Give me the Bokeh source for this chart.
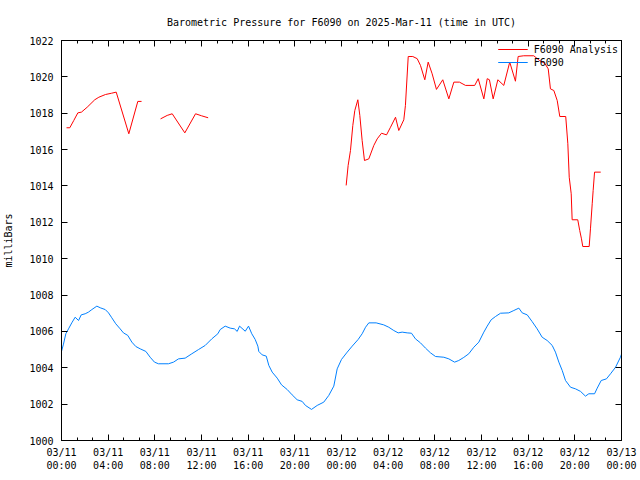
import numpy as np
import pandas as pd
from bokeh.plotting import figure
from bokeh.models import (Range1d, FixedTicker, DatetimeTickFormatter, DatetimeAxis,
                          LinearAxis, Legend, LegendItem, CustomJSTickFormatter)
from bokeh.embed import file_html
from bokeh.resources import INLINE

# ---- data (hours after 2025-03-11 00:00 UTC, pressure in mb) ----
start_time = "2025-03-11 00:00"
tick_hours = [0, 4, 8, 12, 16, 20, 24, 28, 32, 36, 40, 44, 48]
y_ticks = [1000, 1002, 1004, 1006, 1008, 1010, 1012, 1014, 1016, 1018, 1020, 1022]

obs_hours = [
    0.0, 0.17, 0.37, 0.6, 0.88, 1.17, 1.46, 1.69, 2.03, 2.31,
    2.6, 3.03, 3.32, 3.75, 4.03, 4.31, 4.65, 5.03, 5.31, 5.68,
    6.03, 6.37, 6.75, 7.23, 7.6, 7.97, 8.31, 9.17, 9.6, 10.03,
    10.6, 11.17, 11.74, 12.32, 12.88, 13.4, 13.6, 14.03, 14.46, 14.83,
    15.06, 15.26, 15.75, 16.03, 16.31, 16.6, 16.83, 16.91, 17.2, 17.55,
    17.77, 18.06, 18.49, 18.86, 19.35, 19.77, 20.2, 20.63, 20.91, 21.43,
    21.92, 22.48, 22.91, 23.34, 23.63, 24.0, 24.49, 24.92, 25.43, 25.77,
    26.06, 26.34, 26.97, 27.62, 28.05, 28.48, 28.86, 29.2, 29.63, 30.0,
    30.34, 30.77, 31.2, 31.63, 32.06, 32.77, 33.2, 33.69, 34.05, 34.48,
    34.91, 35.34, 35.77, 36.2, 36.49, 36.83, 37.2, 37.63, 38.34, 38.77,
    39.2, 39.49, 39.92, 40.34, 40.77, 41.2, 41.63, 42.06, 42.34, 42.63,
    42.92, 43.2, 43.63, 44.06, 44.49, 44.91, 45.2, 45.69, 45.92, 46.26,
    46.71, 47.06, 47.49, 47.91, 48.0,
]
obs_pressure = [
    1004.9, 1005.3, 1005.87, 1006.14, 1006.47, 1006.78, 1006.6, 1006.91, 1006.97, 1007.06,
    1007.2, 1007.39, 1007.3, 1007.2, 1007.02, 1006.75, 1006.42, 1006.14, 1005.92, 1005.78,
    1005.41, 1005.17, 1005.04, 1004.9, 1004.58, 1004.31, 1004.22, 1004.22, 1004.31, 1004.49,
    1004.53, 1004.77, 1005.0, 1005.23, 1005.59, 1005.87, 1006.1, 1006.29, 1006.18, 1006.14,
    1006.0, 1006.29, 1006.01, 1006.29, 1005.87, 1005.56, 1005.19, 1004.9, 1004.71, 1004.64,
    1004.13, 1003.76, 1003.43, 1003.06, 1002.8, 1002.51, 1002.24, 1002.15, 1001.93, 1001.71,
    1001.93, 1002.11, 1002.48, 1002.99, 1003.94, 1004.46, 1004.86, 1005.19, 1005.56, 1005.87,
    1006.23, 1006.47, 1006.47, 1006.36, 1006.23, 1006.05, 1005.92, 1005.96, 1005.92, 1005.9,
    1005.59, 1005.37, 1005.08, 1004.82, 1004.62, 1004.58, 1004.49, 1004.31, 1004.4, 1004.57,
    1004.77, 1005.13, 1005.41, 1005.96, 1006.29, 1006.64, 1006.82, 1007.0, 1007.02, 1007.15,
    1007.28, 1007.02, 1006.91, 1006.54, 1006.14, 1005.68, 1005.5, 1005.23, 1004.86, 1004.31,
    1003.85, 1003.3, 1002.93, 1002.84, 1002.7, 1002.44, 1002.57, 1002.57, 1002.88, 1003.3,
    1003.39, 1003.67, 1004.03, 1004.58, 1004.75,
]

ana1_hours = [0.43, 0.71, 1.05, 1.4, 1.71, 2.2, 2.85, 3.2, 3.77, 4.29, 4.69, 5.77, 6.54, 6.86]
ana1_pressure = [1017.2, 1017.2, 1017.6, 1018.02, 1018.06, 1018.33, 1018.74, 1018.88, 1019.03,
                 1019.1, 1019.16, 1016.87, 1018.65, 1018.65]
ana2_hours = [8.49, 9.06, 9.49, 10.57, 11.49, 12.0, 12.57]
ana2_pressure = [1017.69, 1017.88, 1017.97, 1016.92, 1017.97, 1017.86, 1017.75]
ana3_hours = [
    24.4, 24.57, 24.77, 24.97, 25.14, 25.4, 25.57, 25.77, 25.97, 26.34,
    26.77, 27.06, 27.43, 27.86, 28.2, 28.63, 28.91, 29.34, 29.48, 29.72,
    30.11, 30.49, 30.77, 31.14, 31.43, 31.77, 32.14, 32.68, 33.2, 33.63,
    34.11, 34.63, 35.42, 35.72, 36.2, 36.49, 36.68, 37.0, 37.4, 37.91,
    38.42, 38.91, 39.14, 39.62, 40.48, 40.97, 41.42, 41.72, 41.91, 42.2,
    42.49, 42.71, 43.22, 43.4, 43.52, 43.69, 43.77, 44.25, 44.42, 44.57,
    44.68, 45.23, 45.34, 45.49, 45.57, 45.69, 46.22,
]
ana3_pressure = [
    1014.03, 1015.13, 1015.95, 1017.33, 1018.15, 1018.74, 1017.88, 1016.5, 1015.4, 1015.49,
    1016.23, 1016.59, 1016.9, 1016.81, 1017.23, 1017.78, 1017.05, 1017.64, 1018.43, 1021.12,
    1021.12, 1021.0, 1020.63, 1019.84, 1020.81, 1020.17, 1019.31, 1019.84, 1018.79, 1019.71,
    1019.71, 1019.53, 1019.53, 1019.9, 1018.79, 1019.9, 1019.84, 1018.79, 1019.84, 1019.53,
    1020.81, 1019.76, 1021.12, 1021.16, 1021.16, 1020.9, 1020.75, 1020.44, 1019.34, 1019.25,
    1018.7, 1017.82, 1017.82, 1016.32, 1014.48, 1013.57, 1012.14, 1012.14, 1011.55, 1011.09,
    1010.67, 1010.67, 1011.64, 1013.02, 1013.75, 1014.76, 1014.76,
]

# ---- helpers ----
t0 = pd.Timestamp(start_time)


def to_time(hours):
    return [t0 + pd.Timedelta(hours=h) for h in hours]


def to_ms(hours):
    return [(t0 + pd.Timedelta(hours=h)).value / 1e6 for h in hours]


# analysis series, broken into segments with NaN gaps
ana_x, ana_y = [], []
for hs, ps in [(ana1_hours, ana1_pressure), (ana2_hours, ana2_pressure), (ana3_hours, ana3_pressure)]:
    if ana_x:
        ana_x.append(to_time([hs[0]])[0])
        ana_y.append(np.nan)
    ana_x += to_time(hs)
    ana_y += ps

FONT = "DejaVu Sans Mono"
FS = "10px"

p = figure(width=640, height=480, x_axis_type="datetime",
           x_range=Range1d(to_time([tick_hours[0]])[0], to_time([tick_hours[-1]])[0]),
           y_range=Range1d(y_ticks[0], y_ticks[-1]),
           output_backend="svg", toolbar_location=None,
           min_border_left=61, min_border_right=19, min_border_top=40, min_border_bottom=40,
           title="Barometric Pressure for F6090 on 2025-Mar-11 (time in UTC)")

p.title.text_font = FONT
p.title.text_font_size = FS
p.title.text_font_style = "normal"
p.title.text_color = "black"
p.title.align = "center"
p.title.standoff = 26

r_ana = p.line(ana_x, ana_y, line_color="#ff0000", line_width=1)
r_obs = p.line(to_time(obs_hours), obs_pressure, line_color="#0080ff", line_width=1)

minor_hours = [k * 4 / 3 for k in range(37)]
xticker = FixedTicker(ticks=to_ms(tick_hours), minor_ticks=to_ms(minor_hours))
yticker = FixedTicker(ticks=y_ticks, minor_ticks=[])
fmt_str = "%m/%d\n%H:%M"
xfmt = DatetimeTickFormatter(microseconds=fmt_str, milliseconds=fmt_str, seconds=fmt_str,
                             minsec=fmt_str, minutes=fmt_str, hourmin=fmt_str, hours=fmt_str,
                             days=fmt_str, months=fmt_str, years=fmt_str)
blank = CustomJSTickFormatter(code="return ''")


def style_axis(ax):
    ax.axis_line_color = "black"
    ax.major_tick_line_color = "black"
    ax.minor_tick_line_color = "black"
    ax.major_tick_in = 6
    ax.major_tick_out = 0
    ax.minor_tick_in = 3
    ax.minor_tick_out = 0
    ax.major_label_text_font = FONT
    ax.major_label_text_font_size = FS
    ax.major_label_text_color = "black"
    ax.axis_label_text_font = FONT
    ax.axis_label_text_font_size = FS
    ax.axis_label_text_font_style = "normal"
    ax.axis_label_text_color = "black"


xa = p.xaxis[0]
xa.ticker = xticker
xa.formatter = xfmt
style_axis(xa)
xa.major_label_standoff = 6

ya = p.yaxis[0]
ya.ticker = yticker
style_axis(ya)
ya.major_label_standoff = 8
ya.axis_label = "milliBars"
ya.axis_label_standoff = 12

top = DatetimeAxis(ticker=xticker, formatter=blank)
style_axis(top)
top.major_label_text_font_size = "1px"
top.major_label_standoff = 0
p.add_layout(top, "above")

right = LinearAxis(ticker=yticker, formatter=blank)
style_axis(right)
right.major_label_text_font_size = "1px"
right.major_label_standoff = 0
p.add_layout(right, "right")

p.xgrid.visible = False
p.ygrid.visible = False
p.outline_line_color = "black"
p.background_fill_color = "white"
p.border_fill_color = "white"

legend = Legend(items=[LegendItem(label="F6090 Analysis", renderers=[r_ana]),
                       LegendItem(label="F6090", renderers=[r_obs])],
                location="top_right")
legend.label_text_font = FONT
legend.label_text_font_size = FS
legend.label_text_color = "black"
legend.border_line_color = None
legend.background_fill_alpha = 0
legend.glyph_width = 30
legend.label_height = 12
legend.glyph_height = 12
legend.spacing = 1
legend.padding = 2
legend.margin = 3
legend.label_standoff = 6
p.add_layout(legend)

open("out.html", "w").write(file_html(p, INLINE))
